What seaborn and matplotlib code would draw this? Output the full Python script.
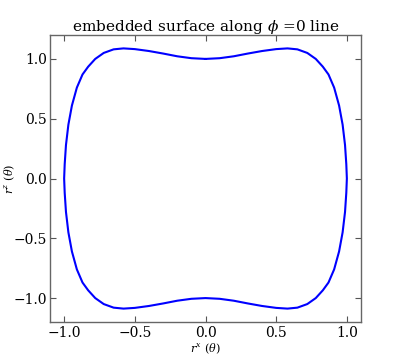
import matplotlib
matplotlib.use("Agg")
import matplotlib.pyplot as plt
import numpy as np
import pandas as pd
import seaborn as sns

# curve, going clockwise from the top middle
rx = [0.00, 0.10, 0.20, 0.30, 0.40, 0.50, 0.58, 0.65, 0.72, 0.78, 0.83,
      0.87, 0.91, 0.945, 0.970, 0.987, 0.996, 1.000,
      0.996, 0.987, 0.970, 0.945, 0.91, 0.87, 0.83, 0.78, 0.72, 0.65,
      0.58, 0.50, 0.40, 0.30, 0.20, 0.10, 0.00,
      -0.10, -0.20, -0.30, -0.40, -0.50, -0.58, -0.65, -0.72, -0.78, -0.83,
      -0.87, -0.91, -0.945, -0.970, -0.987, -0.996, -1.000,
      -0.996, -0.987, -0.970, -0.945, -0.91, -0.87, -0.83, -0.78, -0.72,
      -0.65, -0.58, -0.50, -0.40, -0.30, -0.20, -0.10, 0.00]
rz = [1.000, 1.006, 1.022, 1.045, 1.066, 1.082, 1.088, 1.080, 1.050, 1.000,
      0.935, 0.870, 0.760, 0.610, 0.450, 0.280, 0.120, 0.000,
      -0.120, -0.280, -0.450, -0.610, -0.760, -0.870, -0.935, -1.000,
      -1.050, -1.080, -1.088, -1.082, -1.066, -1.045, -1.022, -1.006, -1.000,
      -1.006, -1.022, -1.045, -1.066, -1.082, -1.088, -1.080, -1.050, -1.000,
      -0.935, -0.870, -0.760, -0.610, -0.450, -0.280, -0.120, 0.000,
      0.120, 0.280, 0.450, 0.610, 0.760, 0.870, 0.935, 1.000, 1.050,
      1.080, 1.088, 1.082, 1.066, 1.045, 1.022, 1.006, 1.000]
ticks = [-1.0, -0.5, 0.0, 0.5, 1.0]

sns.set_style("ticks")
plt.rcParams["font.family"] = ["DejaVu Serif"]
plt.rcParams["mathtext.fontset"] = "dejavuserif"
plt.rcParams["text.color"] = "black"
plt.rcParams["axes.labelcolor"] = "black"
plt.rcParams["xtick.labelcolor"] = "black"
plt.rcParams["ytick.labelcolor"] = "black"

df = pd.DataFrame({"rx": rx, "rz": rz, "i": np.arange(len(rx))})

fig = plt.figure(figsize=(4.0, 3.58), dpi=100)
ax = fig.add_axes([50 / 400, 36 / 358, 311 / 400, 287 / 358])
sns.lineplot(data=df, x="rx", y="rz", sort=False, estimator=None,
             color="#0000ff", linewidth=1.5, ax=ax)

ax.set_xlim(-1.1, 1.1)
ax.set_ylim(-1.2, 1.2)
ax.set_xticks(ticks)
ax.set_yticks(ticks)
ax.tick_params(direction="in", top=True, right=True, length=4,
               width=0.8, labelsize=10, color="#555555")
ax.tick_params(axis="x", pad=3)
ax.tick_params(axis="y", pad=2)
for s in ax.spines.values():
    s.set_color("#666666")
    s.set_linewidth(1.0)
ax.set_xlabel(r"$r^x\ (\theta)$", fontsize=8, labelpad=1)
ax.set_ylabel(r"$r^z\ (\theta)$", fontsize=8)
ax.yaxis.set_label_coords(-0.105, 0.5)
ax.set_title(r"embedded surface along $\phi$ =0 line", fontsize=11, pad=3)

fig.savefig("out.png", dpi=100)
